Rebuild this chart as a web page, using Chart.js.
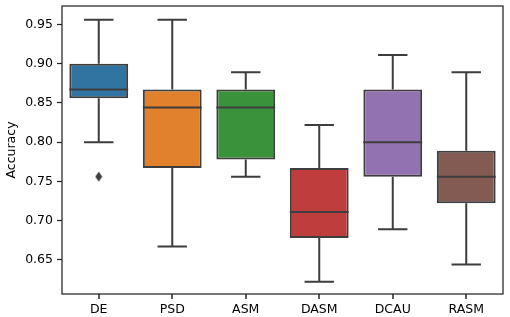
<!DOCTYPE html>
<html>
<head>
<meta charset="utf-8">
<script src="https://cdn.jsdelivr.net/npm/chart.js@4/dist/chart.umd.min.js"></script>
<style>
  body { margin: 0; background: #fff; }
</style>
</head>
<body>
<canvas id="boxChart" width="510" height="317"></canvas>
<script>
const categories = ['DE', 'PSD', 'ASM', 'DASM', 'DCAU', 'RASM'];
const whiskerLow = [0.800, 0.667, 0.756, 0.622, 0.689, 0.644];
const q1 = [0.856, 0.767, 0.778, 0.678, 0.756, 0.722];
const medians = [0.867, 0.844, 0.844, 0.711, 0.800, 0.756];
const q3 = [0.900, 0.867, 0.867, 0.767, 0.867, 0.789];
const whiskerHigh = [0.956, 0.956, 0.889, 0.822, 0.911, 0.889];
const outliers = [0.756, null, null, null, null, null];
const yTicks = [0.65, 0.70, 0.75, 0.80, 0.85, 0.90, 0.95];

const boxColors = ['#3274a1', '#e1812c', '#3a923a', '#c03d3e', '#9372b2', '#845b53'];
const edgeColor = '#3d3d3d';
const axisColor = '#262626';

// thin diamond marker like matplotlib 'd'
const diamond = document.createElement('canvas');
diamond.width = 8;
diamond.height = 11;
(function () {
    const c = diamond.getContext('2d');
    c.fillStyle = edgeColor;
    c.beginPath();
    c.moveTo(4, 0.5);
    c.lineTo(7.5, 5.5);
    c.lineTo(4, 10.5);
    c.lineTo(0.5, 5.5);
    c.closePath();
    c.fill();
})();

const boxParts = {
    id: 'boxParts',
    afterDatasetsDraw(chart) {
        const ctx = chart.ctx;
        const x = chart.scales.x;
        const y = chart.scales.y;
        const bars = chart.getDatasetMeta(0).data;
        ctx.save();
        ctx.strokeStyle = edgeColor;
        ctx.lineWidth = 2;
        ctx.lineCap = 'butt';
        categories.forEach((c, i) => {
            const cx = x.getPixelForValue(i);
            const half = bars[i].width / 2;
            const cap = half / 2;
            ctx.beginPath();
            // upper whisker + cap
            ctx.moveTo(cx, y.getPixelForValue(q3[i]));
            ctx.lineTo(cx, y.getPixelForValue(whiskerHigh[i]));
            ctx.moveTo(cx - cap, y.getPixelForValue(whiskerHigh[i]));
            ctx.lineTo(cx + cap, y.getPixelForValue(whiskerHigh[i]));
            // lower whisker + cap
            ctx.moveTo(cx, y.getPixelForValue(q1[i]));
            ctx.lineTo(cx, y.getPixelForValue(whiskerLow[i]));
            ctx.moveTo(cx - cap, y.getPixelForValue(whiskerLow[i]));
            ctx.lineTo(cx + cap, y.getPixelForValue(whiskerLow[i]));
            // median
            ctx.moveTo(cx - half, y.getPixelForValue(medians[i]));
            ctx.lineTo(cx + half, y.getPixelForValue(medians[i]));
            ctx.stroke();
        });
        ctx.restore();
    },
    afterDraw(chart) {
        const a = chart.chartArea;
        const ctx = chart.ctx;
        const x = chart.scales.x;
        ctx.save();
        ctx.strokeStyle = axisColor;
        ctx.lineWidth = 1.25;
        ctx.strokeRect(a.left, a.top, a.right - a.left, a.bottom - a.top);
        // x tick marks under each category
        ctx.fillStyle = axisColor;
        categories.forEach((c, i) => {
            const px = Math.round(x.getPixelForValue(i));
            ctx.fillRect(px - 0.75, a.bottom, 1.5, 5);
        });
        ctx.restore();
    }
};

const ctx = document.getElementById('boxChart').getContext('2d');
new Chart(ctx, {
    type: 'bar',
    data: {
        labels: categories,
        datasets: [{
            type: 'bar',
            data: categories.map((c, i) => [q1[i], q3[i]]),
            backgroundColor: boxColors,
            borderColor: edgeColor,
            borderWidth: 2,
            borderSkipped: false,
            barPercentage: 0.8,
            categoryPercentage: 1.0
        }, {
            type: 'line',
            data: outliers,
            showLine: false,
            pointStyle: diamond,
            pointRadius: 5
        }]
    },
    options: {
        responsive: false,
        animation: false,
        devicePixelRatio: 1,
        layout: { padding: { top: 5, right: 7, left: 0, bottom: 0 } },
        plugins: {
            legend: { display: false },
            tooltip: { enabled: false }
        },
        scales: {
            x: {
                offset: true,
                grid: {
                    display: true,
                    drawOnChartArea: false,
                    drawTicks: true,
                    tickLength: 5,
                    tickColor: 'rgba(0,0,0,0)'
                },
                border: { display: false },
                ticks: {
                    color: '#000',
                    padding: 3,
                    font: { family: 'DejaVu Sans', size: 12.5 }
                },
                afterFit(scale) {
                    scale.height = 23;
                    scale.paddingLeft = 0;
                    scale.paddingRight = 0;
                }
            },
            y: {
                min: 0.6065,
                max: 0.9735,
                afterBuildTicks(scale) {
                    scale.ticks = yTicks.map(v => ({ value: v }));
                },
                afterFit(scale) {
                    scale.width = 62;
                    scale.paddingTop = 0;
                    scale.paddingBottom = 0;
                },
                grid: {
                    display: true,
                    drawOnChartArea: false,
                    drawTicks: true,
                    tickLength: 5,
                    tickColor: axisColor,
                    tickWidth: 1.25
                },
                border: { display: false },
                ticks: {
                    color: '#000',
                    padding: 4,
                    font: { family: 'DejaVu Sans', size: 12.5 },
                    callback: v => v.toFixed(2)
                },
                title: {
                    display: true,
                    text: 'Accuracy',
                    color: '#000',
                    padding: { top: 4, bottom: 0 },
                    font: { family: 'DejaVu Sans', size: 12.5 }
                }
            }
        }
    },
    plugins: [boxParts]
});
</script>
</body>
</html>
